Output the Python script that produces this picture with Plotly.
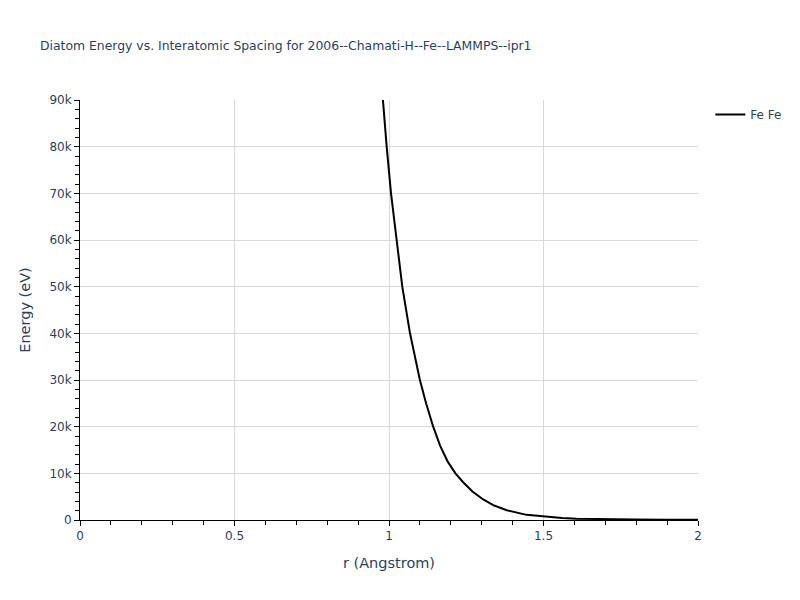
import plotly.graph_objects as go

r_values = [0.95, 0.979, 0.9925, 1.0065, 1.025, 1.043, 1.068, 1.10, 1.12, 1.143, 1.165,
            1.19, 1.215, 1.24, 1.27, 1.305, 1.34, 1.381, 1.445, 1.503, 1.56, 1.607,
            1.7, 1.8, 1.9, 2.0]
energy_values = [115000, 90000, 80000, 70000, 60000, 50000, 40000, 30000, 25000, 20000, 16000,
                 12500, 10000, 8100, 6100, 4400, 3100, 2100, 1100, 700, 430, 290,
                 160, 90, 50, 30]
series_name = "Fe Fe"
title_text = "Diatom Energy vs. Interatomic Spacing for 2006--Chamati-H--Fe--LAMMPS--ipr1"

fig = go.Figure()
fig.add_trace(go.Scatter(x=r_values, y=energy_values, mode="lines", name=series_name,
                         line=dict(color="black", width=2)))

fig.update_layout(
    title=dict(text=title_text, x=32 / 792, xanchor="left", y=1 - (46 - 8) / 592, yanchor="middle",
               font=dict(size=12.4, color="#2a3f5f")),
    plot_bgcolor="white",
    paper_bgcolor="white",
    width=792, height=592,
    font=dict(family="DejaVu Sans, verdana, arial, sans-serif", color="#2a3f5f", size=12),
    showlegend=True,
    legend=dict(font=dict(size=12)),
    margin=dict(l=72, r=102, t=92, b=80),
)
fig.update_xaxes(
    title=dict(text="r (Angstrom)", font=dict(size=14.5)),
    range=[0, 2], dtick=0.5,
    showline=True, linecolor="black", linewidth=1,
    ticks="outside", tickcolor="black", ticklen=5,
    showgrid=True, gridcolor="#d9d9d9",
    zeroline=False,
    minor=dict(ticks="outside", dtick=0.1, ticklen=4, tickcolor="black", showgrid=False),
)
fig.update_yaxes(
    title=dict(text="Energy (eV)", font=dict(size=14.5)),
    range=[0, 90000], dtick=10000,
    showline=True, linecolor="black", linewidth=1,
    ticks="outside", tickcolor="black", ticklen=5,
    showgrid=True, gridcolor="#d9d9d9",
    zeroline=False,
    minor=dict(ticks="outside", dtick=2000, ticklen=4, tickcolor="black", showgrid=False),
)

fig.write_html("out.html")
